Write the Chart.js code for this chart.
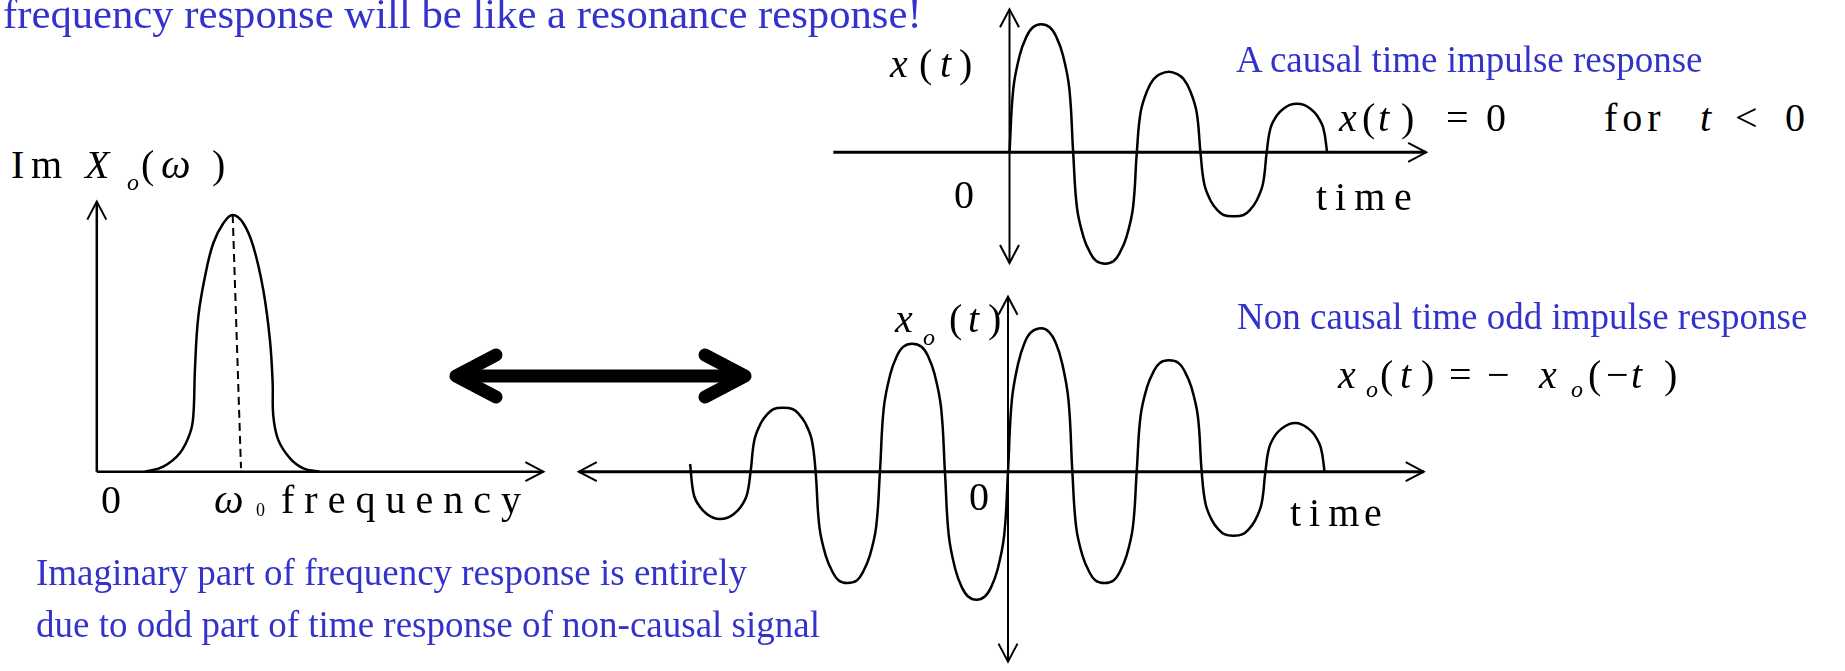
<!DOCTYPE html>
<html><head><meta charset="utf-8">
<script src="https://cdn.jsdelivr.net/npm/chart.js@4.4.0/dist/chart.umd.min.js"></script>
<style>
html,body{margin:0;padding:0;background:#fff;width:1845px;height:671px;overflow:hidden;position:relative;font-family:"Liberation Serif","Times New Roman",serif;}
canvas.c{position:absolute;}
.t{position:absolute;white-space:nowrap;line-height:1;color:#000;}
svg{position:absolute;left:0;top:0;}
</style></head><body>
<script>
// ---- Data ----
// Frequency plot: Im X_o(omega), omega in units of omega0, value in units of the peak
const freqOmega = [0.355,0.489,0.612,0.686,0.710,0.723,0.747,0.796,0.857,0.931,1.0,1.078,1.152,1.225,1.274,1.294,1.299,1.336,1.422,1.520,1.638];
const freqImX   = [0,0.02,0.073,0.150,0.216,0.409,0.604,0.760,0.890,0.968,1.0,0.968,0.877,0.708,0.513,0.346,0.216,0.123,0.052,0.013,0];
// dashed line marking omega0 under the peak
const peakLineOmega = [1.0, 1.061];
const peakLineImX   = [1.0, 0.014];
// Causal impulse response x(t), t in half periods
const causalT = [0,0.06,0.16,0.26,0.36,0.49,0.63,0.73,0.83,0.93,0.99,
  1.05,1.15,1.25,1.35,1.49,1.62,1.72,1.82,1.92,1.98,
  2.04,2.14,2.24,2.34,2.48,2.61,2.71,2.81,2.91,2.97,
  3.03,3.13,3.23,3.33,3.49,3.64,3.74,3.84,3.94,4.0,
  4.06,4.16,4.26,4.36,4.47,4.58,4.68,4.78,4.88,4.94];
const causalX = [0,0.5,0.76,0.9,0.975,1.0,0.975,0.9,0.76,0.5,0,
  -0.435,-0.66,-0.78,-0.85,-0.87,-0.85,-0.78,-0.66,-0.435,0,
  0.315,0.48,0.57,0.61,0.63,0.61,0.57,0.48,0.315,0,
  -0.25,-0.38,-0.45,-0.49,-0.5,-0.49,-0.45,-0.38,-0.25,0,
  0.19,0.29,0.34,0.37,0.38,0.37,0.34,0.29,0.19,0];
// Odd (non causal) impulse response x_o(t)
const oddT = [-4.94,-4.88,-4.78,-4.68,-4.58,-4.48,-4.36,-4.26,-4.16,-4.06,-4.0,
  -3.94,-3.84,-3.74,-3.64,-3.5,-3.35,-3.25,-3.15,-3.05,-2.99,
  -2.93,-2.83,-2.73,-2.63,-2.5,-2.35,-2.25,-2.15,-2.05,-1.99,
  -1.93,-1.83,-1.73,-1.63,-1.49,-1.34,-1.24,-1.14,-1.04,-0.98,
  -0.92,-0.82,-0.72,-0.62,-0.49,-0.36,-0.26,-0.16,-0.06,0,
  0.06,0.16,0.26,0.36,0.52,0.64,0.74,0.84,0.94,1.0,
  1.06,1.16,1.26,1.36,1.5,1.64,1.74,1.84,1.94,2.0,
  2.06,2.16,2.26,2.36,2.5,2.65,2.75,2.85,2.95,3.01,
  3.07,3.17,3.27,3.37,3.5,3.64,3.74,3.84,3.94,4.0,
  4.06,4.16,4.26,4.36,4.47,4.56,4.66,4.76,4.86,4.92];
const oddX = [0.06,-0.185,-0.28,-0.33,-0.36,-0.37,-0.36,-0.33,-0.28,-0.185,0,
  0.25,0.38,0.45,0.49,0.5,0.49,0.45,0.38,0.25,0,
  -0.435,-0.66,-0.78,-0.85,-0.87,-0.85,-0.78,-0.66,-0.435,0,
  0.5,0.76,0.9,0.975,1.0,0.975,0.9,0.76,0.5,0,
  -0.5,-0.76,-0.9,-0.975,-1.0,-0.975,-0.9,-0.76,-0.5,0,
  0.56,0.85,1.01,1.09,1.12,1.09,1.01,0.85,0.56,0,
  -0.435,-0.66,-0.78,-0.85,-0.87,-0.85,-0.78,-0.66,-0.435,0,
  0.435,0.66,0.78,0.85,0.87,0.85,0.78,0.66,0.435,0,
  -0.25,-0.38,-0.45,-0.49,-0.5,-0.49,-0.45,-0.38,-0.25,0,
  0.19,0.29,0.34,0.37,0.38,0.37,0.34,0.29,0.19,0];

function pts(xs, ys){ return xs.map((x,i)=>({x:x, y:ys[i]})); }

function head(ctx, x, y, dx, dy){
  const L = 18, W = 9.5;
  const bx = x - dx*L, by = y - dy*L;
  ctx.beginPath();
  ctx.moveTo(bx - dy*W, by + dx*W);
  ctx.lineTo(x, y);
  ctx.lineTo(bx + dy*W, by - dx*W);
  ctx.stroke();
}
function drawAxes(chart, ax){
  const ctx = chart.ctx, xs = chart.scales.x, ys = chart.scales.y;
  ctx.save();
  ctx.strokeStyle = '#000'; ctx.lineCap = 'butt'; ctx.lineJoin = 'miter';
  const y0 = ys.getPixelForValue(0), x0 = xs.getPixelForValue(0);
  const xa = xs.getPixelForValue(ax.h.from), xb = xs.getPixelForValue(ax.h.to);
  ctx.lineWidth = ax.h.w;
  ctx.beginPath(); ctx.moveTo(xa, y0); ctx.lineTo(xb, y0); ctx.stroke();
  ctx.lineWidth = 2;
  if (ax.h.start) head(ctx, xa, y0, -1, 0);
  if (ax.h.end) head(ctx, xb, y0, 1, 0);
  const ya = ys.getPixelForValue(ax.v.from), yb = ys.getPixelForValue(ax.v.to);
  ctx.lineWidth = ax.v.w;
  ctx.beginPath(); ctx.moveTo(x0, ya); ctx.lineTo(x0, yb); ctx.stroke();
  ctx.lineWidth = 2;
  if (ax.v.start) head(ctx, x0, ya, 0, 1);
  if (ax.v.end) head(ctx, x0, yb, 0, -1);
  ctx.restore();
}
function makePlot(id, box, frame, datasets, axes){
  const cv = document.createElement('canvas');
  cv.id = id; cv.className = 'c';
  cv.style.left = box.left + 'px'; cv.style.top = box.top + 'px';
  cv.width = box.width; cv.height = box.height;
  cv.style.width = box.width + 'px'; cv.style.height = box.height + 'px';
  document.body.appendChild(cv);
  const xmin = (box.left - frame.x0) / frame.kx, xmax = (box.left + box.width - frame.x0) / frame.kx;
  const ymax = (frame.y0 - box.top) / frame.ky, ymin = (frame.y0 - box.top - box.height) / frame.ky;
  return new Chart(cv, {
    type: 'scatter',
    data: { datasets: datasets },
    options: {
      responsive: false, animation: false, events: [],
      layout: { padding: 0 },
      plugins: { legend: { display: false }, tooltip: { enabled: false }, title: { display: false } },
      scales: {
        x: { type: 'linear', display: false, min: xmin, max: xmax },
        y: { type: 'linear', display: false, min: ymin, max: ymax }
      }
    },
    plugins: [{ id: 'ax_' + id, beforeDatasetsDraw(chart){ drawAxes(chart, axes); } }]
  });
}
const curveStyle = { showLine: true, borderColor: '#000', borderWidth: 2.5, pointRadius: 0, tension: 0.4, fill: false, clip: false };

makePlot('freq', {left: 40, top: 190, width: 530, height: 310}, {x0: 96.8, kx: 135.9, y0: 471.7, ky: 256.7}, [
  Object.assign({ label: 'Im X_o(ω)', data: pts(freqOmega, freqImX) }, curveStyle),
  { label: 'ω0', data: pts(peakLineOmega, peakLineImX), showLine: true, borderColor: '#000', borderWidth: 2, borderDash: [8, 5], pointRadius: 0, tension: 0 }
], { h: {from: 0, to: 3.286, w: 2.5, end: true}, v: {from: 0, to: 1.052, w: 2.5, end: true} });

makePlot('causal', {left: 800, top: 0, width: 660, height: 282}, {x0: 1009.5, kx: 64.3, y0: 152.3, ky: 128}, [
  Object.assign({ label: 'x(t)', data: pts(causalT, causalX) }, curveStyle)
], { h: {from: -2.74, to: 6.48, w: 3, end: true}, v: {from: -0.865, to: 1.117, w: 2, start: true, end: true} });

makePlot('odd', {left: 560, top: 284, width: 890, height: 387}, {x0: 1008, kx: 64.35, y0: 471.7, ky: 128}, [
  Object.assign({ label: 'x_o(t)', data: pts(oddT, oddX) }, curveStyle)
], { h: {from: -6.67, to: 6.46, w: 3, start: true, end: true}, v: {from: -1.484, to: 1.367, w: 2, start: true, end: true} });

// ---- Text ----
const BLUE = '#3333CC';
const texts = [
  ['frequency response will be like a resonance response!', 3, 28.5, 42.7, 'n', BLUE, 0],
  ['A causal time impulse response', 1236, 72, 37, 'n', BLUE, 0],
  ['Non causal time odd impulse response', 1237, 329, 37, 'n', BLUE, 0],
  ['Imaginary part of frequency response is entirely', 36, 585, 37, 'n', BLUE, 0],
  ['due to odd part of time response of non-causal signal', 36, 637, 37, 'n', BLUE, 0],
  // frequency plot labels
  ['I', 11, 178, 40, 'n', '#000', 0], ['m', 31, 178, 40, 'n', '#000', 0],
  ['X', 85, 178, 40, 'i', '#000', 0], ['o', 127, 190, 24, 'i', '#000', 0],
  ['(', 141, 178, 40, 'n', '#000', 0], ['ω', 161, 178, 42, 'i', '#000', 0], [')', 212, 178, 40, 'n', '#000', 0],
  ['0', 101, 513, 40, 'n', '#000', 0],
  ['ω', 214, 513, 42, 'i', '#000', 0], ['0', 256, 516.5, 18, 'n', '#000', 0],
  ['frequency', 281, 513, 40, 'n', '#000', 10],
  // causal plot labels
  ['x', 890, 77, 40, 'i', '#000', 0], ['(', 919, 77, 40, 'n', '#000', 0], ['t', 940, 77, 40, 'i', '#000', 0], [')', 959, 77, 40, 'n', '#000', 0],
  ['0', 954, 208, 40, 'n', '#000', 0],
  ['tim', 1316, 210.5, 40, 'n', '#000', 8], ['e', 1394, 210.5, 40, 'n', '#000', 0],
  ['x', 1339, 131.7, 40, 'i', '#000', 0], ['(', 1362, 131.7, 40, 'n', '#000', 0], ['t', 1378, 131.7, 40, 'i', '#000', 0], [')', 1401, 131.7, 40, 'n', '#000', 0],
  ['=', 1446, 131.7, 40, 'n', '#000', 0], ['0', 1486, 131.7, 40, 'n', '#000', 0],
  ['for', 1604, 131.7, 40, 'n', '#000', 5],
  ['t', 1700, 131.7, 40, 'i', '#000', 0], ['<', 1735, 131.7, 40, 'n', '#000', 0], ['0', 1785, 131.7, 40, 'n', '#000', 0],
  // odd plot labels
  ['x', 895, 332, 40, 'i', '#000', 0], ['o', 923, 345, 24, 'i', '#000', 0], ['(', 949, 332, 40, 'n', '#000', 0], ['t', 968, 332, 40, 'i', '#000', 0], [')', 988, 332, 40, 'n', '#000', 0],
  ['0', 969, 510, 40, 'n', '#000', 0],
  ['tim', 1290, 526.5, 40, 'n', '#000', 8], ['e', 1364, 526.5, 40, 'n', '#000', 0],
  ['x', 1338, 388.3, 40, 'i', '#000', 0], ['o', 1366, 397, 24, 'i', '#000', 0], ['(', 1380, 388.3, 40, 'n', '#000', 0], ['t', 1400, 388.3, 40, 'i', '#000', 0], [')', 1421, 388.3, 40, 'n', '#000', 0],
  ['=', 1449, 388.3, 40, 'n', '#000', 0], ['−', 1487, 388.3, 40, 'n', '#000', 0],
  ['x', 1539, 388.3, 40, 'i', '#000', 0], ['o', 1571, 397, 24, 'i', '#000', 0], ['(', 1588, 388.3, 40, 'n', '#000', 0], ['−', 1606, 388.3, 40, 'n', '#000', 0],
  ['t', 1631, 388.3, 40, 'i', '#000', 0], [')', 1664, 388.3, 40, 'n', '#000', 0]
];
texts.forEach(([s, x, base, size, st, col, ls]) => {
  const d = document.createElement('div');
  d.className = 't';
  d.textContent = s;
  d.style.left = x + 'px';
  d.style.top = (base - 0.8375 * size) + 'px';
  d.style.fontSize = size + 'px';
  d.style.color = col;
  if (st === 'i') d.style.fontStyle = 'italic';
  if (ls) d.style.letterSpacing = ls + 'px';
  document.body.appendChild(d);
});

// ---- big double-headed arrow between the frequency and time pictures ----
const ns = 'http://www.w3.org/2000/svg';
const svg = document.createElementNS(ns, 'svg');
svg.setAttribute('width', '1845'); svg.setAttribute('height', '671');
[['M456 376 L745 376', 'butt'], ['M496 355 L456 376 L496 397', 'round'], ['M705 355 L745 376 L705 397', 'round']].forEach(([d, cap]) => {
  const p = document.createElementNS(ns, 'path');
  p.setAttribute('d', d); p.setAttribute('stroke', '#000'); p.setAttribute('stroke-width', '13');
  p.setAttribute('fill', 'none'); p.setAttribute('stroke-linecap', cap); p.setAttribute('stroke-linejoin', 'round');
  svg.appendChild(p);
});
document.body.appendChild(svg);
</script>
</body></html>
